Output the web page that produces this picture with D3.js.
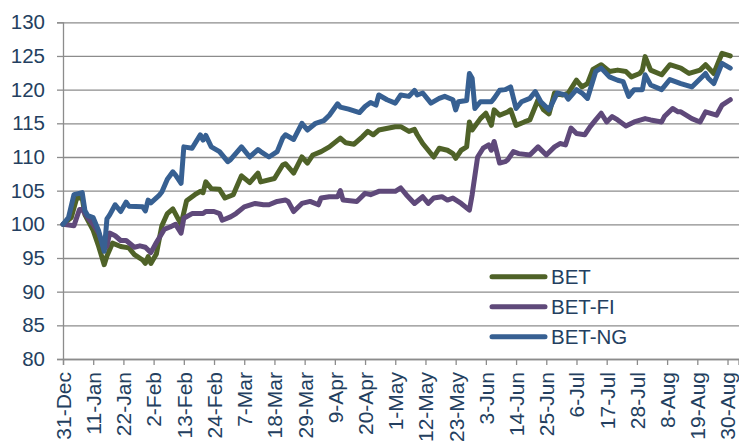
<!DOCTYPE html>
<html>
<head>
<meta charset="utf-8">
<script src="https://cdn.jsdelivr.net/npm/d3@7"></script>
<style>
  body { margin: 0; background: #fff; }
  svg { display: block; font-family: "Liberation Sans", Arial, sans-serif; }
</style>
</head>
<body>
<svg width="739" height="441"></svg>
<script>
// days counted from 31-Dec, values rebased to 100
const betDays = [0,3,5,7,8,11,13,15,16,18,21,24,26,29,30,31,32,34,36,38,40,43,45,48,50,51,52,54,57,59,62,65,68,71,72,77,80,81,84,87,89,91,94,97,101,103,106,109,111,113,115,121,123,126,128,129,131,135,137,140,142,143,145,147,148,149,152,154,156,157,159,162,163,165,168,170,173,175,177,179,182,184,187,189,191,193,196,199,202,205,207,210,211,212,214,218,221,225,228,232,234,237,240,243];
const betValues = [100,101,103.9,103.9,101.4,99.1,96.7,94,95.3,97.2,96.7,96.5,95.5,94.7,94.2,95.2,94.2,95.6,99.8,101.6,102.3,100,103.5,104.4,104.9,104.7,106.3,105.3,105.2,103.9,104.4,107.2,106.2,107.6,106.3,106.8,108.8,109,107.6,110,109.1,110.3,110.8,111.5,112.8,112.1,111.9,113,113.8,113.3,114,114.5,114.5,113.8,114.1,113.3,112,110,111.3,111,110.5,109.8,111,111.5,115.2,114,115.7,116.5,114.7,117,116.2,116.7,117,114.7,115.2,115.5,118.5,117,116.4,119.5,119.2,119.5,121.4,120.4,120.9,123,123.7,122.7,122.9,122.7,121.9,122.4,122.9,124.9,122.9,122.2,123.7,123.2,122.4,122.9,123.7,122.4,125.4,125];

const betFiDays = [0,4,6,7,9,11,13,15,16,17,19,21,23,26,28,30,32,34,37,39,41,43,44,47,51,52,55,57,58,61,63,66,70,73,75,78,81,82,84,87,90,93,94,97,100,101,102,107,110,112,115,121,123,125,128,131,133,135,138,140,142,145,148,149,151,153,155,156,157,159,161,162,164,166,170,173,176,179,181,183,185,187,190,192,194,196,198,200,202,205,208,212,214,218,219,222,224,225,229,232,234,238,240,243];
const betFiValues = [100,99.8,102.2,102.2,101,100,98.7,96.3,96.8,98.7,98.3,97.6,97.6,96.6,96.8,96.6,95.8,97.3,99.3,99.6,100,98.7,100.9,101.6,101.6,101.9,101.9,101.6,100.6,101.1,101.6,102.6,103.1,102.9,102.9,103.4,103.6,103.4,101.9,103.1,103.4,102.9,103.9,104.1,104.1,105,103.6,103.4,104.6,104.4,104.9,104.9,105.4,104.4,103.1,104.1,103.1,103.9,104.1,103.6,103.9,103.1,102.1,104.4,110,111.3,111.8,111,112.3,109.1,109.3,109.6,110.8,110.5,110.3,111.5,110.3,111.5,112,111.8,114.3,113.5,113.3,114.5,115.5,116.5,115.2,116,115.5,114.6,115.2,115.7,115.5,115.2,116,117.2,116.7,116.7,115.7,115.2,116.7,116.2,117.7,118.5];

const betNgDays = [0,2,4,7,8,9,11,13,15,16,17,19,21,23,24,29,30,31,32,35,36,38,40,41,43,44,47,50,51,52,54,57,60,61,65,68,71,72,75,78,80,81,84,87,89,92,95,97,100,101,104,108,110,112,114,115,118,121,123,126,128,129,131,134,137,139,142,143,144,147,148,149,150,152,156,157,159,161,163,165,167,170,172,174,177,180,183,184,187,189,191,194,196,199,202,204,206,208,211,212,214,218,221,225,229,234,235,237,240,243];
const betNgValues = [100,101,104.4,104.7,102,101.3,101,99,96,100.8,101.4,102.9,101.9,103.3,102.7,102.6,102,103.6,103.2,104.3,104.8,106.7,107.8,107.3,106.1,111.5,111.3,113.3,112.5,113.2,111.5,110.8,109.3,109.6,111.5,110,111.1,110.8,110,110.8,112.8,113.3,112.6,115,114,115,115.4,116.2,117.9,117.4,117.1,116.6,117.5,118.1,117.7,119.2,118.5,118,119.2,119,119.9,119.2,119.5,118,118.7,119,118.5,117,118.2,118.4,122.4,121.7,117.2,118.2,118.2,118.7,119.9,120,120.4,117.2,118.2,118.7,119.7,118.2,117,119.5,119.2,118.6,120,119.5,118.7,122.7,123.2,121.9,121.4,121.2,119,120,120,122.2,120.7,120,121.5,120.9,120.4,122.4,121.7,120.9,123.9,123.2];

const seriesNames = ["BET", "BET-FI", "BET-NG"];
const seriesColors = ["#4f6228", "#5f497a", "#376092"];
const yTicks = [80,85,90,95,100,105,110,115,120,125,130];
const xTickLabels = ["31-Dec","11-Jan","22-Jan","2-Feb","13-Feb","24-Feb","7-Mar","18-Mar","29-Mar","9-Apr","20-Apr","1-May","12-May","23-May","3-Jun","14-Jun","25-Jun","6-Jul","17-Jul","28-Jul","8-Aug","19-Aug","30-Aug"];

const startDate = new Date(2012, 11, 31);
const toDate = d => d3.timeDay.offset(startDate, d);
const parseTick = d3.timeParse("%d-%b-%Y");
const xTickDates = xTickLabels.map(l => parseTick(l + (l.endsWith("Dec") ? "-2012" : "-2013")));

const plotLeft = 63, plotRight = 738.5, plotTop = 22.3, plotBottom = 359;
const textColor = "#243f60";
const gridColor = "#8c8c8c";

const x = d3.scaleTime().domain([startDate, toDate(246)]).range([plotLeft, plotRight]);
const y = d3.scaleLinear().domain([80, 130]).range([plotBottom, plotTop]);

const svg = d3.select("svg");

// horizontal gridlines
svg.append("g")
    .attr("transform", `translate(${plotLeft},0)`)
    .call(d3.axisLeft(y).tickValues(yTicks).tickSize(-(739 - plotLeft)).tickFormat(""))
    .call(g => g.select(".domain").remove())
    .call(g => g.selectAll("line").attr("stroke", gridColor).attr("stroke-width", 1.3));

// y axis
svg.append("g")
    .attr("transform", `translate(${plotLeft},0)`)
    .call(d3.axisLeft(y).tickValues(yTicks).tickSize(6).tickPadding(12).tickFormat(d3.format("d")))
    .call(g => g.select(".domain").attr("stroke", gridColor).attr("stroke-width", 1.3))
    .call(g => g.selectAll("line").attr("stroke", gridColor).attr("stroke-width", 1.3))
    .call(g => g.selectAll("text").attr("fill", textColor).style("font-size", "20.5px"));

// x axis
svg.append("g")
    .attr("transform", `translate(0,${plotBottom})`)
    .call(d3.axisBottom(x).tickValues(xTickDates).tickSize(6).tickFormat((d, i) => xTickLabels[i]))
    .call(g => g.select(".domain").attr("stroke", gridColor).attr("stroke-width", 1.3))
    .call(g => g.selectAll("line").attr("stroke", gridColor).attr("stroke-width", 1.3))
    .call(g => g.selectAll("text")
        .attr("fill", textColor)
        .style("font-size", "21px")
        .attr("transform", "rotate(-90)")
        .attr("text-anchor", "end")
        .attr("x", -13)
        .attr("y", 0)
        .attr("dy", "0.35em"));

const series = [
    {name: seriesNames[0], days: betDays, values: betValues},
    {name: seriesNames[1], days: betFiDays, values: betFiValues},
    {name: seriesNames[2], days: betNgDays, values: betNgValues},
];

const line = d3.line()
    .x(d => x(d.date))
    .y(d => y(d.value));

svg.append("g").selectAll("path")
    .data(series)
    .enter()
    .append("path")
    .attr("fill", "none")
    .attr("stroke", (s, i) => seriesColors[i])
    .attr("stroke-width", 5)
    .attr("stroke-linejoin", "round")
    .attr("stroke-linecap", "round")
    .attr("d", s => line(s.days.map((d, i) => ({date: toDate(d), value: s.values[i]}))));

// legend
const legend = svg.append("g").selectAll("g")
    .data(seriesNames)
    .enter()
    .append("g")
    .attr("transform", (d, i) => `translate(492,${276.7 + i * 30})`);

legend.append("line")
    .attr("x1", 0).attr("x2", 53)
    .attr("stroke", (d, i) => seriesColors[i])
    .attr("stroke-width", 5)
    .attr("stroke-linecap", "round");

legend.append("text")
    .attr("x", 59)
    .attr("dy", "0.35em")
    .attr("fill", textColor)
    .style("font-size", "20.5px")
    .text(d => d);
</script>
</body>
</html>
